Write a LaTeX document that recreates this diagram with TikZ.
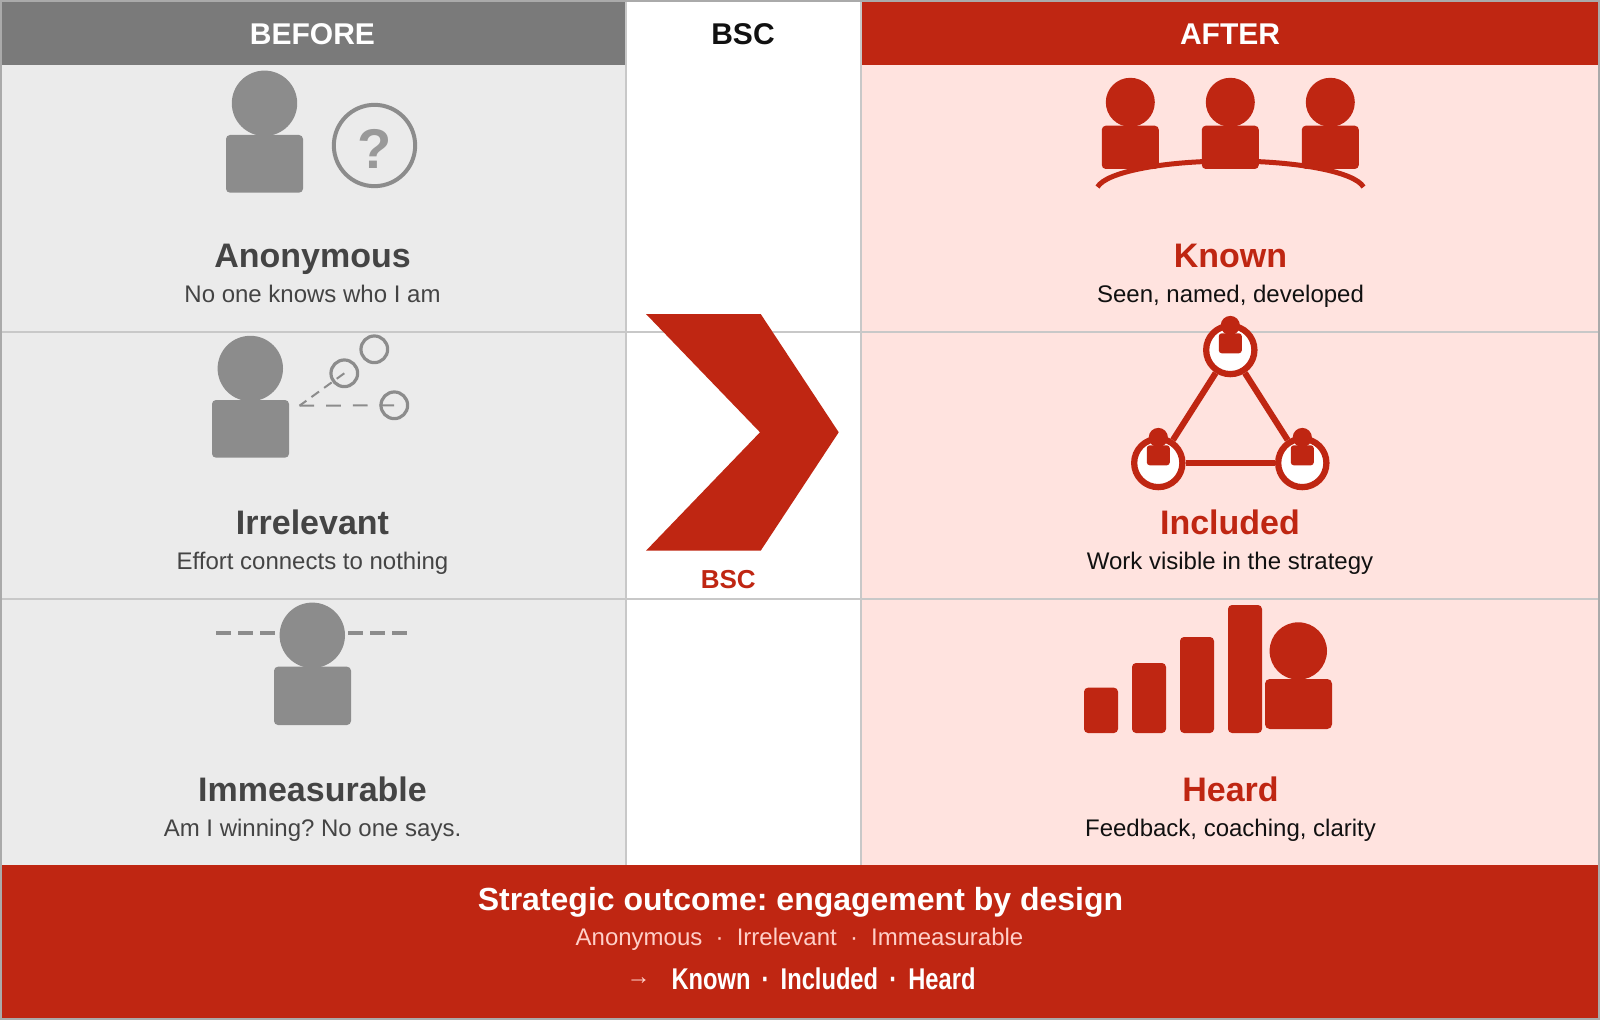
\documentclass[tikz,border=0pt]{standalone}
\usepackage{fontspec}
\setmainfont{Liberation Sans}
\usepackage{graphicx}
\frenchspacing
\definecolor{bscred}{HTML}{BF2612}
\definecolor{headgray}{HTML}{7A7A7A}
\definecolor{beforebg}{HTML}{EBEBEB}
\definecolor{afterbg}{HTML}{FFE3DF}
\definecolor{gridline}{HTML}{C8C8C8}
\definecolor{outerline}{HTML}{AAAAAA}
\definecolor{icongray}{HTML}{8C8C8C}
\definecolor{qgray}{HTML}{999999}
\definecolor{darktext}{HTML}{444444}
\definecolor{bodytext}{HTML}{111111}
\definecolor{palered}{HTML}{FFCFC8}
\newcommand{\headfont}{\fontsize{22.5}{27}\selectfont\bfseries}
\newcommand{\titlefont}{\fontsize{25.5}{30}\selectfont\bfseries}
\newcommand{\subfont}{\fontsize{18}{22}\selectfont}
\tikzset{
  txt/.style={inner sep=0pt,outer sep=0pt,anchor=base,align=center},
  headtxt/.style={txt,font=\headfont},
  titleB/.style={txt,font=\titlefont,text=darktext},
  subB/.style={txt,font=\subfont,text=darktext},
  titleA/.style={txt,font=\titlefont,text=bscred},
  subA/.style={txt,font=\subfont,text=bodytext},
  grid line/.style={gridline,line width=1.5pt},
  grayfig/.style={fill=icongray,draw=none},
  redfig/.style={fill=bscred,draw=none},
  smallring/.style={circle,draw=icongray,line width=2.4pt,minimum size=20pt,inner sep=0pt,fill=none},
  hub/.style={circle,draw=bscred,line width=4.7pt,fill=white,minimum size=36.2pt,inner sep=0pt},
  link/.style={bscred,line width=4.6pt},
}
\begin{document}
\begin{tikzpicture}[x=0.75pt,y=-0.75pt]
\useasboundingbox (0,0) rectangle (1600,1020);
\fill[white] (0,0) rectangle (1600,1020);
% backgrounds
\fill[beforebg] (2,65) rectangle (625.5,865);
\fill[afterbg] (861,65) rectangle (1598,865);
\fill[headgray] (2,2) rectangle (625.5,65);
\fill[bscred] (861,2) rectangle (1598,65);
% grid
\draw[grid line] (2,331.7) -- (1598,331.7);
\draw[grid line] (2,598.7) -- (1598,598.7);
\draw[grid line] (625.7,2) -- (625.7,865);
\draw[grid line] (860.8,2) -- (860.8,865);
\fill[bscred] (2,865) rectangle (1598,1018);
\draw[outerline,line width=1.5pt] (1,1) rectangle (1599,1019);
% headers
\node[headtxt,text=white] (hbefore) at (312.5,45) {BEFORE};
\node[headtxt,text=bodytext] (hbsc) at (743,45) {BSC};
\node[headtxt,text=white] (hafter) at (1230,45) {AFTER};
% before: anonymous
\fill[grayfig] (264.5,103.3) circle [radius=32.7];
\fill[grayfig,rounded corners=3pt] (226,135) rectangle (303,192.7);
\node[circle,draw=icongray,line width=3pt,minimum size=61pt,inner sep=0pt] (qring) at (374.5,145.5) {};
\node[txt,font=\fontsize{42}{48}\selectfont\bfseries,text=qgray] (qmark) at (375,169) {?};
\node[titleB] (t1) at (312.5,267.7) {Anonymous};
\node[subB] (s1) at (312.5,302) {No one knows who I am};
% before: irrelevant
\fill[grayfig] (250.3,368.5) circle [radius=32.7];
\fill[grayfig,rounded corners=3pt] (212,400) rectangle (289,457.7);
\node[smallring] (r1) at (374.3,349.3) {};
\node[smallring] (r2) at (344.3,373.3) {};
\node[smallring] (r3) at (394.3,405.3) {};
\coordinate (origin) at (299.5,405.7);
\draw[icongray,line width=1.5pt,dash pattern=on 7pt off 4.7pt] (r2.center) -- (origin);
\draw[icongray,line width=1.5pt,dash pattern=on 11pt off 9pt] (origin) -- (r3.center);
\node[titleB] (t2) at (312.5,534) {Irrelevant};
\node[subB] (s2) at (312.5,569) {Effort connects to nothing};
% before: immeasurable
\fill[grayfig] (312.3,635.3) circle [radius=32.7];
\fill[grayfig,rounded corners=3pt] (274,666.7) rectangle (351,725);
\coordinate (dl) at (216,633);\coordinate (dlb) at (275,633);
\coordinate (dr) at (348,633);\coordinate (drb) at (407,633);
\draw[icongray,line width=3pt,dash pattern=on 11.25pt off 5.25pt] (dl) -- (dlb);
\draw[icongray,line width=3pt,dash pattern=on 11.25pt off 5.25pt] (dr) -- (drb);
\node[titleB] (t3) at (312.5,801) {Immeasurable};
\node[subB] (s3) at (312.5,836) {Am I winning? No one says.};
% chevron
\fill[bscred] (646,314) -- (760.7,314) -- (838.7,432.3) -- (760.7,550.7) -- (646,550.7) -- (760,432.3) -- cycle;
\node[txt,font=\fontsize{19.5}{24}\selectfont\bfseries,text=bscred] (bsc) at (728.3,588) {BSC};
% after: known
\draw[bscred,line width=3.75pt] (1097.5,187) .. controls (1106.2,172) and (1162.8,161) .. (1230.5,161) .. controls (1298.2,161) and (1354.8,172) .. (1363.5,187);
\foreach \cx in {1130.3,1230.3,1330.3}{
  \fill[redfig] (\cx,102.3) circle [radius=24.5];
  \fill[redfig,rounded corners=3pt] (\cx-28.5,125.7) rectangle (\cx+28.5,169);
}
\node[titleA] (t4) at (1230.5,267.7) {Known};
\node[subA] (s4) at (1230.5,302) {Seen, named, developed};
% after: included
\node[hub] (ha) at (1230.3,350) {};
\node[hub] (hb) at (1158.3,463) {};
\node[hub] (hc) at (1302.3,463) {};
\draw[link] (ha) -- (hb);
\draw[link] (ha) -- (hc);
\draw[link] (hb) -- (hc);
\foreach \cx/\hy/\by in {1230.3/325.5/333.3,1158.3/437.5/445.3,1302.3/437.5/445.3}{
  \fill[redfig] (\cx,\hy) circle [radius=9.6];
  \fill[redfig,rounded corners=2.2pt] (\cx-11.5,\by) rectangle (\cx+11.5,\by+20);
}
\node[titleA] (t5) at (1230,534) {Included};
\node[subA] (s5) at (1230,569) {Work visible in the strategy};
% after: heard
\fill[redfig,rounded corners=3pt] (1084,687.7) rectangle (1118,733);
\fill[redfig,rounded corners=3pt] (1132,663) rectangle (1166,733);
\fill[redfig,rounded corners=3pt] (1180,637) rectangle (1214,733);
\fill[redfig,rounded corners=3pt] (1228,605) rectangle (1262,733);
\fill[redfig] (1298.3,651) circle [radius=28.7];
\fill[redfig,rounded corners=3.5pt] (1265,679) rectangle (1332,729);
\node[titleA] (t6) at (1230.5,801) {Heard};
\node[subA] (s6) at (1230.5,836) {Feedback, coaching, clarity};
% footer
\node[txt,font=\fontsize{24}{28}\selectfont\bfseries,text=white] (f1) at (800.5,910) {Strategic outcome: engagement by design};
\node[txt,font=\subfont,text=palered] (f2) at (799.5,945) {Anonymous\hspace{0.55em}·\hspace{0.55em}Irrelevant\hspace{0.55em}·\hspace{0.55em}Immeasurable};
\node[txt,font=\subfont,text=palered] (f3a) at (638.5,984) {→};
\node[txt,font=\fontsize{22.5}{27}\selectfont\bfseries,text=white] (f3b) at (823.5,989.2) {\scalebox{0.79}[1]{Known\hspace{0.47em}·\hspace{0.47em}Included\hspace{0.47em}·\hspace{0.47em}Heard}};
\end{tikzpicture}
\end{document}
